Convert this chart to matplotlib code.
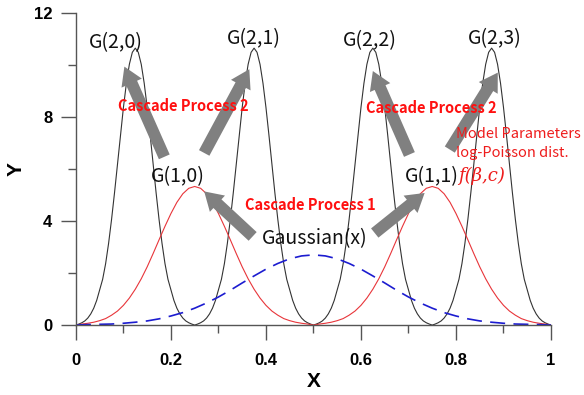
import numpy as np
import matplotlib
matplotlib.use('Agg')
import matplotlib.pyplot as plt
from matplotlib.ticker import MultipleLocator

# level-2 functions G(2,k): four narrow humps, sampled every 0.00625
black_x = np.linspace(0, 1, 161)
black_y = [0.0, 0.04, 0.09, 0.16, 0.27, 0.43, 0.65, 0.95, 1.35, 1.76, 2.36, 3.14, 4.06, 5.09, 6.19, 7.31, 8.37, 9.30, 10.03, 10.49,
           10.65, 10.49, 10.03, 9.30, 8.37, 7.31, 6.19, 5.09, 4.06, 3.14, 2.36, 1.76, 1.35, 0.95, 0.65, 0.43, 0.27, 0.16, 0.09, 0.04,
           0.0, 0.04, 0.09, 0.16, 0.27, 0.43, 0.65, 0.95, 1.35, 1.76, 2.36, 3.14, 4.06, 5.09, 6.19, 7.31, 8.37, 9.30, 10.03, 10.49,
           10.65, 10.49, 10.03, 9.30, 8.37, 7.31, 6.19, 5.09, 4.06, 3.14, 2.36, 1.76, 1.35, 0.95, 0.65, 0.43, 0.27, 0.16, 0.09, 0.04,
           0.0, 0.04, 0.09, 0.16, 0.27, 0.43, 0.65, 0.95, 1.35, 1.76, 2.36, 3.14, 4.06, 5.09, 6.19, 7.31, 8.37, 9.30, 10.03, 10.49,
           10.65, 10.49, 10.03, 9.30, 8.37, 7.31, 6.19, 5.09, 4.06, 3.14, 2.36, 1.76, 1.35, 0.95, 0.65, 0.43, 0.27, 0.16, 0.09, 0.04,
           0.0, 0.04, 0.09, 0.16, 0.27, 0.43, 0.65, 0.95, 1.35, 1.76, 2.36, 3.14, 4.06, 5.09, 6.19, 7.31, 8.37, 9.30, 10.03, 10.49,
           10.65, 10.49, 10.03, 9.30, 8.37, 7.31, 6.19, 5.09, 4.06, 3.14, 2.36, 1.76, 1.35, 0.95, 0.65, 0.43, 0.27, 0.16, 0.09, 0.04,
           0.0]

# level-1 functions G(1,k), sampled every 0.0125
red_x = np.linspace(0, 1, 81)
red_y = [0.0, 0.04, 0.07, 0.11, 0.17, 0.25, 0.38, 0.54, 0.76, 1.04, 1.38, 1.78, 2.24, 2.75, 3.28, 3.80, 4.29, 4.72, 5.05, 5.26,
         5.33, 5.26, 5.05, 4.72, 4.29, 3.80, 3.28, 2.75, 2.24, 1.78, 1.38, 1.04, 0.76, 0.54, 0.38, 0.25, 0.17, 0.11, 0.07, 0.04,
         0.0, 0.04, 0.07, 0.11, 0.17, 0.25, 0.38, 0.54, 0.76, 1.04, 1.38, 1.78, 2.24, 2.75, 3.28, 3.80, 4.29, 4.72, 5.05, 5.26,
         5.33, 5.26, 5.05, 4.72, 4.29, 3.80, 3.28, 2.75, 2.24, 1.78, 1.38, 1.04, 0.76, 0.54, 0.38, 0.25, 0.17, 0.11, 0.07, 0.04,
         0.0]

# Gaussian(x), sampled every 0.025
blue_x = np.linspace(0, 1, 41)
blue_y = [0.0, 0.02, 0.03, 0.04, 0.07, 0.11, 0.16, 0.24, 0.35, 0.48, 0.65, 0.85, 1.08, 1.34, 1.62, 1.89, 2.15, 2.37, 2.55, 2.66,
          2.70, 2.66, 2.55, 2.37, 2.15, 1.89, 1.62, 1.34, 1.08, 0.85, 0.65, 0.48, 0.35, 0.24, 0.16, 0.11, 0.07, 0.04, 0.03, 0.02,
          0.0]

# arrows: (tail, head) in data coordinates
arrows = [((0.186, 6.47), (0.102, 9.94)),
          ((0.270, 6.62), (0.365, 9.84)),
          ((0.372, 3.41), (0.270, 5.14)),
          ((0.629, 3.54), (0.734, 5.08)),
          ((0.702, 6.56), (0.625, 9.77)),
          ((0.787, 6.75), (0.888, 9.71))]

g_labels = ['G(2,0)', 'G(2,1)', 'G(2,2)', 'G(2,3)', 'G(1,0)', 'G(1,1)']
g_pos = [(0.085, 10.87), (0.375, 11.0), (0.619, 10.93), (0.881, 11.0), (0.215, 5.69), (0.749, 5.72)]

fig = plt.figure(figsize=(5.84, 3.95), dpi=100)
ax = fig.add_axes([0.130, 0.177, 0.8135, 0.790])

ax.plot(black_x, black_y, color='#333333', linewidth=0.8)
ax.plot(red_x, red_y, color='#e8353a', linewidth=0.8)
ax.plot(blue_x, blue_y, color='#1c1cd0', linewidth=1.2, dashes=(9, 5))

for tail, head in arrows:
    ax.annotate('', xy=head, xytext=tail,
                arrowprops=dict(arrowstyle='simple,head_length=1.3,head_width=1.6,tail_width=0.85',
                                mutation_scale=10, color='#808080', shrinkA=0, shrinkB=0, linewidth=0))

kfont = ['Noto Sans CJK KR', 'DejaVu Sans']
for lab, (x, y) in zip(g_labels, g_pos):
    ax.text(x, y, lab, ha='center', va='center', fontsize=14, family=kfont, color='#111111')

ax.text(0.502, 3.32, 'Gaussian(x)', ha='center', va='center', fontsize=14, family=kfont, color='#111111')
ax.text(0.227, 8.41, 'Cascade Process 2', ha='center', va='center', fontsize=10.5,
        family=kfont, fontweight='bold', color='#ff1010')
ax.text(0.748, 8.33, 'Cascade Process 2', ha='center', va='center', fontsize=10.5,
        family=kfont, fontweight='bold', color='#ff1010')
ax.text(0.493, 4.62, 'Cascade Process 1', ha='center', va='center', fontsize=10.5,
        family=kfont, fontweight='bold', color='#ff1010')
ax.text(0.799, 7.33, 'Model Parameters', ha='left', va='center', fontsize=10.5, family=kfont, color='#ee1c1c')
ax.text(0.799, 6.62, 'log-Poisson dist.', ha='left', va='center', fontsize=10.5, family=kfont, color='#ee1c1c')
ax.text(0.853, 5.72, 'f(β,c)', ha='center', va='center', fontsize=13, family='DejaVu Serif',
        style='italic', color='#ee1c1c')

ax.set_xlim(0, 1)
ax.set_ylim(0, 12)
ax.xaxis.set_major_locator(MultipleLocator(0.2))
ax.xaxis.set_minor_locator(MultipleLocator(0.1))
ax.yaxis.set_major_locator(MultipleLocator(4))
ax.yaxis.set_minor_locator(MultipleLocator(2))
ax.set_xticks([0, 0.2, 0.4, 0.6, 0.8, 1.0])
ax.set_xticklabels(['0', '0.2', '0.4', '0.6', '0.8', '1'])

for s in ['top', 'right']:
    ax.spines[s].set_visible(False)
for s in ['left', 'bottom']:
    ax.spines[s].set_color('#555555')
    ax.spines[s].set_linewidth(1.0)

ax.tick_params(which='major', direction='out', length=11, width=1.0, color='#555555')
ax.tick_params(axis='x', which='major', pad=9)
ax.tick_params(axis='y', which='major', pad=6)
ax.tick_params(which='minor', direction='out', length=6, width=1.0, color='#555555')
for lab in ax.get_xticklabels() + ax.get_yticklabels():
    lab.set_family('Liberation Sans')
    lab.set_fontweight('bold')
    lab.set_fontsize(12)

ax.set_xlabel('X', fontsize=15, fontweight='bold', family='Liberation Sans', labelpad=3)
ax.set_ylabel('Y', fontsize=15, fontweight='bold', family='Liberation Sans', labelpad=6)

fig.savefig('out.png', dpi=100)
